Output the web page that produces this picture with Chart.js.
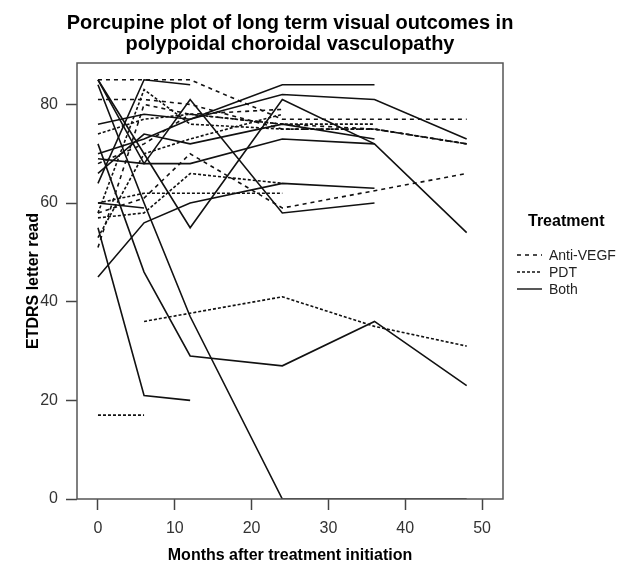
<!DOCTYPE html>
<html><head><meta charset="utf-8">
<script src="https://cdn.jsdelivr.net/npm/chart.js@4.4.1/dist/chart.umd.min.js"></script>
<style>html,body{margin:0;padding:0;background:#fff}</style>
</head><body>
<canvas id="c" width="617" height="565"></canvas>
<script>
// ---- data ----
const months = [0, 6, 12, 24, 36, 48];
const xTicks = [0, 10, 20, 30, 40, 50];
const yTicks = [0, 20, 40, 60, 80];
const treatments = ['Anti-VEGF', 'PDT', 'Both'];
const titleLines = ['Porcupine plot of long term visual outcomes in', 'polypoidal choroidal vasculopathy'];
const xTitle = 'Months after treatment initiation';
const yTitle = 'ETDRS letter read';
const legendTitle = 'Treatment';

// Anti-VEGF subjects (values at months 0,6,12,24,36,48)
const av1 = [85, 85, 85, 77, 77, 77];
const av2 = [81, 81, 80, 75, 75, 72];
const av3 = [58, 61, 70, 59, null, 66];
const av4 = [51, 80, 78, 76, 75, 72];
const av5 = [68, 72, 78, 79, null, null];
// PDT subjects
const pdt1 = [null, 36, null, 41, 35, 31];
const pdt2 = [17, 17, null, null, null, null];
const pdt3 = [60, 62, 62, 62, null, null];
const pdt4 = [57, 58, 66, 64, null, null];
const pdt5 = [58, 83, 76, 75, 75, 72];
const pdt6 = [53, 70, 73, 78, null, null];
const pdt7 = [74, 77, 78, 76, 76, null];
// Both subjects
const b1 = [85, 70, 55, 81, 72, 54];
const b2 = [85, 68, 81, 58, 60, null];
const b3 = [45, 56, 60, 64, 63, null];
const b4 = [55, 21, 20, null, null, null];
const b5 = [72, 46, 29, 27, 36, 23];
const b6 = [84, 60, 37, 0, 0, 0];
const b7 = [64, 85, 84, null, null, null];
const b8 = [69, 68, 68, 73, 72, null];
const b9 = [70, 73, 77, 84, 84, null];
const b10 = [76, 78, 77, 82, 81, 73];
const b11 = [66, 74, 72, 76, 73, null];
const b12 = [60, 59, null, null, null, null];

const groupAntiVegf = [av1, av2, av3, av4, av5];
const groupPdt = [pdt1, pdt2, pdt3, pdt4, pdt5, pdt6, pdt7];
const groupBoth = [b1, b2, b3, b4, b5, b6, b7, b8, b9, b10, b11, b12];

// ---- styles ----
const FONT = '"Liberation Sans", Arial, Helvetica, sans-serif';
const LINE = '#111';
const dashes = { 'Anti-VEGF': [4, 4], 'PDT': [3, 2], 'Both': [] };

function toPoints(vals) {
  const pts = [];
  vals.forEach((v, i) => { if (v !== null && v !== undefined) pts.push({ x: months[i], y: v }); });
  return pts;
}
const datasets = [];
[[groupAntiVegf, 'Anti-VEGF'], [groupPdt, 'PDT'], [groupBoth, 'Both']].forEach(([grp, t]) => {
  grp.forEach((s, k) => datasets.push({
    label: t + ' ' + (k + 1),
    data: toPoints(s),
    borderColor: LINE,
    borderWidth: 1.6,
    borderDash: dashes[t],
    pointRadius: 0,
    tension: 0,
    fill: false
  }));
});

const boxPlugin = {
  id: 'box',
  afterDraw(chart) {
    const { ctx, chartArea: a } = chart;
    ctx.save();
    ctx.strokeStyle = '#555';
    ctx.lineWidth = 1.5;
    ctx.setLineDash([]);
    ctx.strokeRect(a.left, a.top, a.right - a.left, a.bottom - a.top);
    // main title
    ctx.fillStyle = '#000';
    ctx.font = 'bold 20px ' + FONT;
    ctx.textAlign = 'center';
    ctx.textBaseline = 'alphabetic';
    const cx = (a.left + a.right) / 2;
    ctx.fillText(titleLines[0], cx, 29);
    ctx.fillText(titleLines[1], cx, 50);
    // legend
    ctx.textAlign = 'left';
    ctx.font = 'bold 16px ' + FONT;
    ctx.fillText(legendTitle, 528, 226);
    ctx.font = '14px ' + FONT;
    treatments.forEach((t, i) => {
      const y = 255 + i * 17;
      ctx.beginPath();
      ctx.strokeStyle = LINE;
      ctx.lineWidth = 1.4;
      ctx.setLineDash(dashes[t]);
      ctx.moveTo(517, y);
      ctx.lineTo(542, y);
      ctx.stroke();
      ctx.setLineDash([]);
      ctx.fillStyle = '#222';
      ctx.textBaseline = 'middle';
      ctx.fillText(t, 549, y + 1);
    });
    ctx.restore();
  }
};

new Chart(document.getElementById('c'), {
  type: 'line',
  data: { datasets },
  plugins: [boxPlugin],
  options: {
    responsive: false,
    animation: false,
    devicePixelRatio: 1,
    layout: { padding: { top: 63, right: 114, left: 0, bottom: 0 } },
    plugins: { legend: { display: false }, tooltip: { enabled: false }, title: { display: false } },
    scales: {
      x: {
        type: 'linear',
        min: -2.73, max: 52.73,
        afterBuildTicks: s => { s.ticks = xTicks.map(v => ({ value: v })); },
        afterFit: s => { s.height = 66; },
        border: { display: false },
        grid: { display: true, drawOnChartArea: false, drawTicks: true, tickLength: 11, tickColor: '#444', tickWidth: 1.5 },
        ticks: { color: '#333', font: { family: FONT, size: 16 }, padding: 9, maxRotation: 0, autoSkip: false },
        title: { display: true, text: xTitle, color: '#000', font: { family: FONT, size: 16, weight: 'bold' }, padding: { top: 0, bottom: 0 } }
      },
      y: {
        type: 'linear',
        min: 0, max: 88.4,
        afterBuildTicks: s => { s.ticks = yTicks.map(v => ({ value: v })); },
        afterFit: s => { s.width = 77; },
        border: { display: false },
        grid: { display: true, drawOnChartArea: false, drawTicks: true, tickLength: 11, tickColor: '#444', tickWidth: 1.5 },
        ticks: { color: '#333', font: { family: FONT, size: 16 }, padding: 8, autoSkip: false },
        title: { display: true, text: yTitle, color: '#000', font: { family: FONT, size: 16, weight: 'bold' }, padding: { top: 24, bottom: 0 } }
      }
    }
  }
});
</script>
</body></html>
